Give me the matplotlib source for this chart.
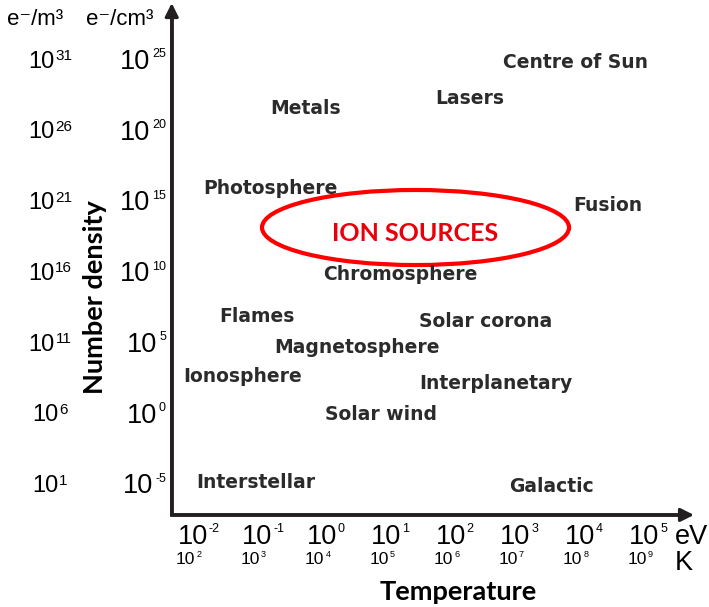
import matplotlib
matplotlib.use("Agg")
import matplotlib.pyplot as plt
from matplotlib.patches import Ellipse

# ---------------- data ----------------
ev_exponents = [-2, -1, 0, 1, 2, 3, 4, 5]          # temperature, eV
k_exponents = [2, 3, 4, 5, 6, 7, 8, 9]             # temperature, K
cm3_exponents = [25, 20, 15, 10, 5, 0, -5]         # density, e-/cm^3
m3_exponents = [31, 26, 21, 16, 11, 6, 1]          # density, e-/m^3

regions = ["Centre of Sun", "Lasers", "Metals", "Photosphere", "Fusion",
           "Chromosphere", "Flames", "Solar corona", "Magnetosphere",
           "Ionosphere", "Interplanetary", "Solar wind", "Interstellar",
           "Galactic"]
region_log_T = [3.845, 2.20, -0.341, -0.899, 4.333, 1.116, -1.109, 2.445,
                0.457, -1.318, 2.600, 0.822, -1.116, 3.465]   # log10(eV)
region_log_n = [24.36, 21.82, 21.12, 15.47, 14.27, 9.39, 6.43, 6.07,
                4.24, 2.19, 1.69, -0.49, -5.30, -5.58]         # log10(cm^-3)

ion_label = "ION SOURCES"
ion_log_T = 1.357
ion_log_n = 13.10
ion_span_T = 4.76   # decades
ion_span_n = 5.30   # decades

# ---------------- figure ----------------
W, H = 709, 607
fig = plt.figure(figsize=(W / 100, H / 100), dpi=100)
ax = fig.add_axes([0, 0, 1, 1])
xmin, xmax = -5.085, 5.907
ymin, ymax = -13.701, 29.167
ax.set_xlim(xmin, xmax)
ax.set_ylim(ymin, ymax)
ax.axis("off")
kx = (xmax - xmin) / W
ky = (ymax - ymin) / H
renderer = fig.canvas.get_renderer()

TICKFONT = "Liberation Sans"
AXCOL = "#231f20"

# axes (L shape with arrows)
x0, y0 = -2.423, -7.20
ytop, xright = 28.95, 5.674
ax.plot([x0, x0, xright - 0.15], [ytop - 0.6, y0, y0], color=AXCOL, lw=2.7,
        solid_joinstyle="miter", solid_capstyle="butt")
for tip in [(x0, ytop), (xright, y0)]:
    ax.annotate("", xy=tip, xytext=(x0, y0),
                arrowprops=dict(arrowstyle="-|>,head_length=0.8,head_width=0.4",
                                lw=2.2, color=AXCOL, shrinkA=0, shrinkB=0,
                                mutation_scale=10))


def power_label(x, y_base, exp, fs_base, fs_exp, gap_px, align, color="black",
                lift=1.0):
    tb = ax.text(x, y_base, "10", fontsize=fs_base, ha="left", va="baseline",
                 family=TICKFONT, color=color)
    te = ax.text(x, y_base, exp, fontsize=fs_exp, ha="left", va="baseline",
                 family=TICKFONT, color=color)
    wb = tb.get_window_extent(renderer).width
    we = te.get_window_extent(renderer).width
    total = wb + gap_px + we
    if align == "left":
        left = x
    elif align == "center":
        left = x - total / 2 * kx
    else:
        left = x - total * kx
    hb = 0.716 * fs_base * 100 / 72
    he = 0.716 * fs_exp * 100 / 72
    raise_px = hb - he + lift
    tb.set_x(left)
    te.set_position((left + (wb + gap_px) * kx, y_base + raise_px * ky))


# x tick labels (eV and K rows)
ev_base = -9.36 + 2 * ky
k_base = -10.45 - 3 * ky
for e in ev_exponents:
    power_label(e - 0.333, ev_base, str(e), 19.5, 9, 1, "left")
for i, e in enumerate(k_exponents):
    power_label(ev_exponents[i] - 0.357, k_base, str(e), 12.5, 6.5, 1, "left")
ax.text(5.38, ev_base, "eV", fontsize=19.5, family=TICKFONT, ha="left", va="baseline")
ax.text(5.38, -10.95 - 2 * ky, "K", fontsize=19.5, family=TICKFONT, ha="left", va="baseline")

# y tick labels
for c, m in zip(cm3_exponents, m3_exponents):
    power_label(-2.512, c - 9.7 * ky, str(c), 19.5, 9, 2, "right")
    power_label(-4.310, c - 8.5 * ky, str(m), 17, 11, 1, "center", lift=1.5)

ax.text(-4.543, 27.40, "e⁻/m³", fontsize=16, family=[TICKFONT, "DejaVu Sans"],
        ha="center", va="baseline")
ax.text(-3.225, 27.40, "e⁻/cm³", fontsize=16, family=[TICKFONT, "DejaVu Sans"],
        ha="center", va="baseline")

# axis titles
ax.text(-3.612, 8.19, "Number density", rotation=90, fontsize=19.5, family="Lato",
        weight="bold", ha="center", va="center", color="black")
ax.text(2.023, -13.21, "Temperature", fontsize=19.5, family="Lato",
        weight="bold", ha="center", va="baseline", color="black")

# region labels
for name, t, n in zip(regions, region_log_T, region_log_n):
    ax.text(t, n, name, fontsize=13.5, family="DejaVu Sans", weight="bold",
            color="#2b2b2b", ha="center", va="baseline")

# ion sources ellipse
ax.add_patch(Ellipse((ion_log_T, ion_log_n), ion_span_T, ion_span_n,
                     fill=False, ec="#ff0000", lw=3))
ax.text(ion_log_T, 12.15, ion_label, fontsize=18, family="Lato", weight="bold",
        color="#e8000b", ha="center", va="baseline")

fig.savefig("out.png", dpi=100)
